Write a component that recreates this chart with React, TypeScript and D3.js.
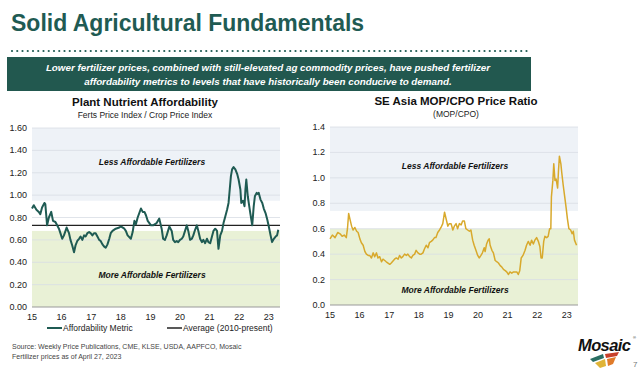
import React from 'react';
import * as d3 from 'd3';

// Plant nutrient affordability (ferts price index / crop price index), [year, value]
const affordability: [number, number][] = [
  [2015.0, 0.88], [2015.06, 0.91], [2015.15, 0.87], [2015.23, 0.85], [2015.28, 0.83], [2015.34, 0.89],
  [2015.42, 0.93], [2015.45, 0.92], [2015.51, 0.73], [2015.57, 0.8], [2015.65, 0.85], [2015.71, 0.77],
  [2015.79, 0.76], [2015.85, 0.73], [2015.91, 0.7], [2015.96, 0.66], [2016.02, 0.61], [2016.08, 0.64],
  [2016.17, 0.71], [2016.25, 0.66], [2016.3, 0.6], [2016.36, 0.55], [2016.42, 0.49], [2016.47, 0.55],
  [2016.53, 0.59], [2016.59, 0.61], [2016.64, 0.63], [2016.7, 0.6], [2016.76, 0.64], [2016.81, 0.63],
  [2016.87, 0.66], [2016.93, 0.67], [2016.98, 0.66], [2017.04, 0.64], [2017.1, 0.66], [2017.15, 0.66],
  [2017.21, 0.63], [2017.27, 0.6], [2017.32, 0.59], [2017.38, 0.56], [2017.44, 0.54], [2017.49, 0.53],
  [2017.55, 0.56], [2017.61, 0.61], [2017.66, 0.66], [2017.72, 0.68], [2017.83, 0.7], [2017.95, 0.71],
  [2018.0, 0.72], [2018.12, 0.7], [2018.17, 0.68], [2018.23, 0.64], [2018.34, 0.61], [2018.4, 0.67],
  [2018.46, 0.77], [2018.51, 0.74], [2018.57, 0.8], [2018.68, 0.88], [2018.74, 0.85], [2018.8, 0.85],
  [2018.85, 0.82], [2018.91, 0.77], [2019.02, 0.73], [2019.09, 0.73], [2019.21, 0.75], [2019.3, 0.79],
  [2019.38, 0.7], [2019.43, 0.61], [2019.49, 0.6], [2019.55, 0.64], [2019.64, 0.72], [2019.72, 0.68],
  [2019.77, 0.6], [2019.83, 0.58], [2019.89, 0.59], [2019.94, 0.58], [2020.0, 0.6], [2020.06, 0.61],
  [2020.11, 0.63], [2020.17, 0.68], [2020.23, 0.73], [2020.28, 0.68], [2020.34, 0.6], [2020.4, 0.61],
  [2020.45, 0.64], [2020.51, 0.69], [2020.57, 0.73], [2020.62, 0.68], [2020.68, 0.61], [2020.74, 0.58],
  [2020.79, 0.6], [2020.85, 0.57], [2020.91, 0.61], [2020.96, 0.58], [2021.02, 0.57], [2021.08, 0.63],
  [2021.13, 0.68], [2021.19, 0.7], [2021.25, 0.68], [2021.3, 0.52], [2021.36, 0.64], [2021.42, 0.68],
  [2021.47, 0.75], [2021.53, 0.81], [2021.59, 0.87], [2021.64, 0.93], [2021.68, 1.05], [2021.72, 1.17],
  [2021.76, 1.23], [2021.81, 1.25], [2021.87, 1.23], [2021.93, 1.19], [2021.98, 1.14], [2022.04, 1.05],
  [2022.07, 0.93], [2022.13, 0.95], [2022.18, 0.9], [2022.21, 1.05], [2022.24, 1.14], [2022.29, 0.99],
  [2022.34, 0.9], [2022.38, 0.83], [2022.44, 0.73], [2022.49, 0.9], [2022.53, 0.99], [2022.59, 1.02],
  [2022.63, 1.01], [2022.66, 1.02], [2022.72, 0.96], [2022.78, 0.93], [2022.83, 0.88], [2022.89, 0.84],
  [2022.95, 0.78], [2023.0, 0.72], [2023.06, 0.64], [2023.11, 0.58], [2023.17, 0.61], [2023.23, 0.63],
  [2023.28, 0.64], [2023.32, 0.69],
];

// SE Asia MOP/CPO price ratio, [year, value]
const mopCpo: [number, number][] = [
  [2015.0, 0.52], [2015.08, 0.55], [2015.17, 0.53], [2015.26, 0.57], [2015.34, 0.56], [2015.41, 0.54],
  [2015.48, 0.55], [2015.55, 0.53], [2015.59, 0.6], [2015.63, 0.72], [2015.68, 0.67], [2015.73, 0.62],
  [2015.78, 0.59], [2015.84, 0.61], [2015.9, 0.58], [2015.95, 0.57], [2016.01, 0.52], [2016.06, 0.49],
  [2016.12, 0.47], [2016.18, 0.42], [2016.23, 0.4], [2016.29, 0.39], [2016.34, 0.39], [2016.4, 0.37],
  [2016.46, 0.41], [2016.51, 0.38], [2016.57, 0.41], [2016.62, 0.37], [2016.68, 0.38], [2016.74, 0.34],
  [2016.79, 0.36], [2016.85, 0.35], [2016.9, 0.34], [2016.96, 0.33], [2017.02, 0.32], [2017.07, 0.33],
  [2017.18, 0.36], [2017.24, 0.37], [2017.3, 0.36], [2017.35, 0.39], [2017.41, 0.37], [2017.46, 0.38],
  [2017.52, 0.4], [2017.58, 0.39], [2017.63, 0.4], [2017.69, 0.38], [2017.75, 0.37], [2017.8, 0.39],
  [2017.86, 0.4], [2017.91, 0.43], [2017.97, 0.41], [2018.03, 0.4], [2018.08, 0.4], [2018.14, 0.41],
  [2018.19, 0.44], [2018.25, 0.47], [2018.31, 0.45], [2018.36, 0.49], [2018.42, 0.5], [2018.47, 0.51],
  [2018.53, 0.53], [2018.58, 0.53], [2018.64, 0.57], [2018.7, 0.59], [2018.75, 0.61], [2018.81, 0.64],
  [2018.87, 0.73], [2018.92, 0.68], [2018.98, 0.62], [2019.03, 0.64], [2019.09, 0.64], [2019.15, 0.59],
  [2019.2, 0.62], [2019.26, 0.64], [2019.31, 0.6], [2019.37, 0.64], [2019.43, 0.63], [2019.48, 0.66],
  [2019.54, 0.66], [2019.59, 0.6], [2019.65, 0.59], [2019.71, 0.58], [2019.76, 0.59], [2019.82, 0.51],
  [2019.87, 0.47], [2019.93, 0.43], [2019.99, 0.39], [2020.04, 0.37], [2020.1, 0.39], [2020.15, 0.41],
  [2020.21, 0.45], [2020.24, 0.42], [2020.29, 0.48], [2020.34, 0.51], [2020.38, 0.52], [2020.41, 0.47],
  [2020.47, 0.43], [2020.52, 0.41], [2020.58, 0.35], [2020.64, 0.34], [2020.69, 0.33], [2020.75, 0.31],
  [2020.8, 0.3], [2020.86, 0.28], [2020.92, 0.27], [2020.97, 0.26], [2021.03, 0.24], [2021.08, 0.26],
  [2021.14, 0.25], [2021.2, 0.26], [2021.25, 0.26], [2021.31, 0.26], [2021.36, 0.24], [2021.41, 0.27],
  [2021.46, 0.37], [2021.52, 0.39], [2021.59, 0.43], [2021.64, 0.47], [2021.7, 0.5], [2021.76, 0.47],
  [2021.81, 0.51], [2021.87, 0.48], [2021.92, 0.51], [2021.98, 0.53], [2022.04, 0.5], [2022.09, 0.46],
  [2022.13, 0.37], [2022.17, 0.37], [2022.22, 0.5], [2022.26, 0.54], [2022.32, 0.53], [2022.37, 0.54],
  [2022.42, 0.6], [2022.46, 0.6], [2022.48, 0.85], [2022.53, 0.98], [2022.56, 1.11], [2022.6, 0.98],
  [2022.64, 0.99], [2022.69, 0.92], [2022.72, 1.06], [2022.75, 1.17], [2022.8, 1.11], [2022.83, 1.04],
  [2022.88, 0.94], [2022.93, 0.85], [2022.98, 0.76], [2023.02, 0.68], [2023.07, 0.6], [2023.13, 0.59],
  [2023.18, 0.56], [2023.22, 0.58], [2023.26, 0.51], [2023.33, 0.47],
];

const years = [2015, 2016, 2017, 2018, 2019, 2020, 2021, 2022, 2023];
const leftTicks = [0, 0.2, 0.4, 0.6, 0.8, 1.0, 1.2, 1.4, 1.6];
const rightTicks = [0, 0.2, 0.4, 0.6, 0.8, 1.0, 1.2, 1.4];
const average = 0.73;
const leftBands = { less: 0.95, more: 0.68 };
const rightBands = { less: 0.74, more: 0.6 };

const FONT = "'Liberation Sans', Arial, sans-serif";
const TEAL = '#1f5b53';
const GOLD = '#d8a92c';

type PanelProps = {
  data: [number, number][];
  x0: number; x1: number; y0: number; y1: number;
  yMax: number; ticks: number[]; fmt: (v: number) => string;
  bands: { less: number; more: number };
  color: string; width: number;
  title: string; subtitle: string; titleX: number;
  labelX: number; lessY: number; moreY: number;
  avg?: number;
};

const Panel = (p: PanelProps) => {
  const x = d3.scaleLinear().domain([2015, 2024.1]).range([p.x0, p.x0 + 9.1 * 29.6]);
  const y = d3.scaleLinear().domain([0, p.yMax]).range([p.y1, p.y0]);
  const line = d3.line<[number, number]>().x(d => x(d[0])).y(d => y(d[1]));
  return (
    <g fontFamily={FONT}>
      <text x={p.titleX} y={p.y0 - 22} textAnchor="middle" fontSize={11.5} fontWeight="bold" fill="#111">{p.title}</text>
      <text x={p.titleX} y={p.y0 - 10} textAnchor="middle" fontSize={8.5} fill="#222">{p.subtitle}</text>
      <rect x={p.x0} y={p.y0} width={p.x1 - p.x0} height={y(p.bands.less) - p.y0} fill="#eef2f7" />
      <rect x={p.x0} y={y(p.bands.more)} width={p.x1 - p.x0} height={p.y1 - y(p.bands.more)} fill="#e9f1d6" />
      {p.ticks.map(t => (
        <g key={t}>
          {t > 0 && <line x1={p.x0} x2={p.x1} y1={y(t)} y2={y(t)} stroke="#d8dde4" strokeWidth={0.8} />}
          <text x={p.x0 - 5} y={y(t) + 3} textAnchor="end" fontSize={9} fill="#222">{p.fmt(t)}</text>
        </g>
      ))}
      <line x1={p.x0} x2={p.x1} y1={p.y1} y2={p.y1} stroke="#9a9a9a" strokeWidth={1.2} />
      {years.map(yr => (
        <text key={yr} x={x(yr)} y={p.y1 + 13} textAnchor="middle" fontSize={9} fill="#222">{String(yr).slice(2)}</text>
      ))}
      <text x={p.labelX} y={p.lessY} textAnchor="middle" fontSize={8.5} fontWeight="bold" fontStyle="italic" fill="#111">Less Affordable Fertilizers</text>
      <text x={p.labelX} y={p.moreY} textAnchor="middle" fontSize={8.5} fontWeight="bold" fontStyle="italic" fill="#111">More Affordable Fertilizers</text>
      {p.avg !== undefined && (
        <line x1={p.x0} x2={p.x1} y1={y(p.avg)} y2={y(p.avg)} stroke="#222" strokeWidth={1.3} />
      )}
      <path d={line(p.data) ?? ''} fill="none" stroke={p.color} strokeWidth={p.width} strokeLinejoin="round" />
    </g>
  );
};

const App = () => {
  const dots = d3.range(12, 529, 5.25);
  return (
    <svg width={640} height={372} style={{ position: 'absolute', left: 0, top: 0, background: '#fff' }}>
      <text x={11} y={31} fontFamily={FONT} fontSize={23} fontWeight="bold" fill={TEAL}>Solid Agricultural Fundamentals</text>
      {dots.map(d => <circle key={d} cx={d} cy={51} r={1.1} fill={TEAL} />)}
      <rect x={7} y={57} width={524} height={34} fill="#22584f" />
      <g fontFamily={FONT} fontSize={9.8} fontWeight="bold" fontStyle="italic" fill="#fff" textAnchor="middle">
        <text x={268} y={71}>Lower fertilizer prices, combined with still-elevated ag commodity prices, have pushed fertilizer</text>
        <text x={268} y={85}>affordability metrics to levels that have historically been conducive to demand.</text>
      </g>

      <Panel data={affordability} x0={32} x1={280} y0={128} y1={307} yMax={1.6} ticks={leftTicks}
        fmt={v => v.toFixed(2)} bands={leftBands} color={TEAL} width={2}
        title="Plant Nutrient Affordability" subtitle="Ferts Price Index / Crop Price Index" titleX={145}
        labelX={152} lessY={165} moreY={278} avg={average} />
      <Panel data={mopCpo} x0={330} x1={578} y0={127} y1={305} yMax={1.4} ticks={rightTicks}
        fmt={v => v.toFixed(1)} bands={rightBands} color={GOLD} width={1.5}
        title="SE Asia MOP/CPO Price Ratio" subtitle="(MOP/CPO)" titleX={456}
        labelX={455} lessY={169} moreY={293} />

      <g fontFamily={FONT} fontSize={8.5} fill="#222">
        <line x1={47} x2={62} y1={328} y2={328} stroke={TEAL} strokeWidth={2} />
        <text x={63} y={331}>Affordability Metric</text>
        <line x1={167} x2={182} y1={328} y2={328} stroke="#222" strokeWidth={1.5} />
        <text x={183} y={331}>Average (2010-present)</text>
      </g>
      <g fontFamily={FONT} fontSize={7} fill="#444">
        <text x={12} y={349}>Source: Weekly Price Publications, CME, KLSE, USDA, AAPFCO, Mosaic</text>
        <text x={12} y={359}>Fertilizer prices as of April 27, 2023</text>
      </g>

      <g>
        <text x={578} y={351} fontFamily={FONT} fontSize={16.5} fontWeight="bold" fontStyle="italic" fill="#111" letterSpacing={-0.6}>Mosaic</text>
        <text x={633} y={339} fontFamily={FONT} fontSize={4} fill="#111">®</text>
        <polygon points="590,359 603,354 604,358 593,362" fill="#2a6f63" />
        <polygon points="605,354 619,352 617,356 606,358" fill="#c8402a" />
        <polygon points="595,363 605,359 606,366 600,368" fill="#e0b437" />
        <polygon points="607,359 616,357 613,364 608,366" fill="#e07b2a" />
        <text x={633} y={367} fontFamily={FONT} fontSize={8} fill="#777">7</text>
      </g>
    </svg>
  );
};

export default App;
